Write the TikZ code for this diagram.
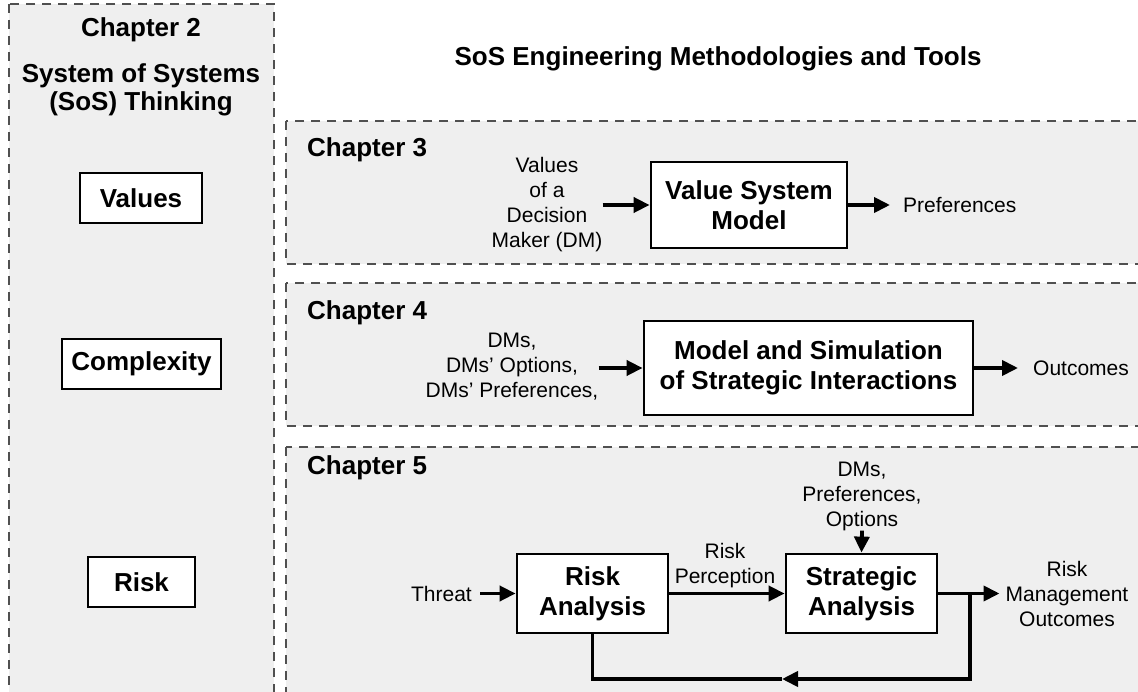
\documentclass[tikz,border=0pt]{standalone}
\usepackage{fontspec}
\setmainfont{Liberation Sans}
\usetikzlibrary{arrows.meta}
\definecolor{panelgray}{HTML}{EFEFEF}
\definecolor{dashgray}{HTML}{505050}
\tikzset{
  panel/.style={fill=panelgray, draw=dashgray, line width=1.3pt, dash pattern=on 9pt off 7pt},
  bigbold/.style={font=\bfseries\fontsize{26}{30}\selectfont},
  box/.style={draw=black, line width=2.8pt, fill=white, bigbold, align=center, inner sep=0pt},
  lbl/.style={font=\fontsize{21}{25}\selectfont, align=center, inner sep=0pt},
  chap/.style={bigbold, anchor=west, inner sep=0pt},
  arr/.style={line width=3.8pt, -{Triangle[length=16pt,width=15pt]}},
  fline/.style={line width=3.8pt, line join=miter}
}
\begin{document}
\begin{tikzpicture}[x=1pt,y=-1pt]
\useasboundingbox (0,0) rectangle (1138,692);
\clip (0,0) rectangle (1138,692);
\fill[white] (0,0) rectangle (1138,692);
% panels
\draw[panel] (9,4) rectangle (274,720);
\draw[panel] (286,121) rectangle (1160,264);
\draw[panel] (286,283) rectangle (1160,426);
\draw[panel] (286,447) rectangle (1160,720);
% left panel
\node[bigbold, inner sep=0pt] (ch2) at (141,30) {Chapter 2};
\node[bigbold, align=center, inner sep=0pt, font=\bfseries\fontsize{26}{28}\selectfont] (sos) at (141,90) {System of Systems\\(SoS) Thinking};
\node[box, minimum width=122pt, minimum height=50pt] (values) at (141,198) {Values};
\node[box, minimum width=159pt, minimum height=50pt] (complexity) at (141.5,364) {Complexity};
\node[box, minimum width=107pt, minimum height=50pt] (risk) at (141.5,582) {Risk};
% title
\node[bigbold, inner sep=0pt] (title) at (718,59) {SoS Engineering Methodologies and Tools};
% chapter 3
\node[chap] (ch3) at (307,150) {Chapter 3};
\node[lbl] (v3in) at (547,205) {Values\\of a\\Decision\\Maker (DM)};
\node[box, minimum width=196pt, minimum height=86pt] (vsm) at (749,205) {Value System\\Model};
\node[lbl, anchor=west] (pref3) at (903,205) {Preferences};
\draw[arr] (v3in.east) -- (vsm.west);
\draw[arr] (vsm.east) -- ([xshift=-13pt]pref3.west);
% chapter 4
\node[chap] (ch4) at (307,313) {Chapter 4};
\node[lbl] (in4) at (512,367) {DMs,\\DMs’ Options,\\DMs’ Preferences,};
\node[box, minimum width=329pt, minimum height=94pt] (msi) at (808.5,368) {Model and Simulation\\of Strategic Interactions};
\node[lbl, anchor=west] (out4) at (1033,368) {Outcomes};
\draw[arr] (in4.east |- msi.west) -- (msi.west);
\draw[arr] (msi.east) -- ([xshift=-15pt]out4.west);
% chapter 5
\node[chap] (ch5) at (307,468) {Chapter 5};
\node[lbl, anchor=east] (threat) at (472,593.5) {Threat};
\node[box, minimum width=151pt, minimum height=79pt] (ra) at (592.5,593.5) {Risk\\Analysis};
\node[box, minimum width=151pt, minimum height=79pt] (sa) at (861.5,593.5) {Strategic\\Analysis};
\node[lbl] (rp) at (725,566) {Risk\\Perception};
\node[lbl] (dpo) at (862,496) {DMs,\\Preferences,\\Options};
\node[lbl] (rmo) at (1067,594) {Risk\\Management\\Outcomes};
\draw[arr] ([xshift=8pt]threat.east) -- (ra.west);
\draw[arr] (ra.east) -- (sa.west);
\draw[arr] (dpo.south) -- (sa.north);
\draw[arr] (sa.east) -- ([xshift=-6pt]rmo.west |- sa.east);
\coordinate (fbA) at (970,593.5);
\coordinate (fbB) at (970,679);
\coordinate (fbM) at (782,679);
\coordinate (fbC) at (592.5,679);
\draw[fline] (fbM) -- (fbC) -- (ra.south);
\draw[fline, arr] (fbA) -- (fbB) -- (fbM);
\end{tikzpicture}
\end{document}
